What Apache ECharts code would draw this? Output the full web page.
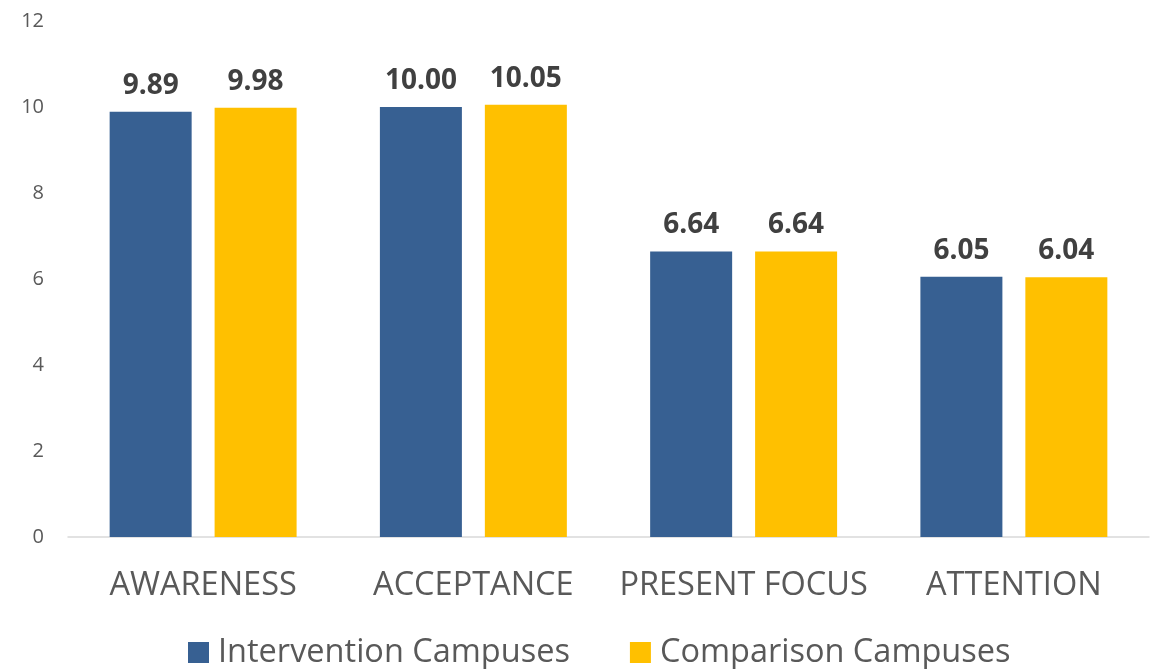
<!DOCTYPE html>
<html>
<head>
<meta charset="utf-8">
<script src="https://cdn.jsdelivr.net/npm/echarts@6/dist/echarts.min.js"></script>
<style>
  html, body { margin: 0; padding: 0; background: #ffffff; }
  #chart { width: 1158px; height: 669px; }
</style>
</head>
<body>
<div id="chart"></div>
<script>
const categories = ['AWARENESS', 'ACCEPTANCE', 'PRESENT FOCUS', 'ATTENTION'];
const interventionValues = [9.89, 10.00, 6.64, 6.05];
const comparisonValues = [9.98, 10.05, 6.64, 6.04];
const seriesNames = ['Intervention Campuses', 'Comparison Campuses'];

const FONT = '"Open Sans", "Noto Sans", sans-serif';

const chart = echarts.init(document.getElementById('chart'));

const valueLabel = {
  show: true,
  position: 'top',
  distance: 12,
  fontFamily: FONT,
  fontWeight: 'bold',
  fontSize: 28,
  color: '#404040',
  formatter: p => p.value.toFixed(2)
};

chart.setOption({
  animation: false,
  backgroundColor: '#ffffff',
  grid: { left: 68, right: 9, top: 21, bottom: 132 },
  legend: {
    top: 636,
    left: 188,
    padding: 0,
    itemWidth: 21,
    itemHeight: 21,
    itemGap: 60,
    icon: 'rect',
    textStyle: { fontFamily: FONT, fontSize: 32.5, color: '#595959', padding: [0, 0, 0, 4] },
    data: seriesNames
  },
  xAxis: {
    type: 'category',
    data: categories,
    axisLine: { lineStyle: { color: '#d9d9d9', width: 1.5 } },
    axisTick: { show: false },
    axisLabel: { interval: 0, fontFamily: FONT, fontSize: 32.5, color: '#595959', margin: 32 }
  },
  yAxis: {
    type: 'value',
    min: 0,
    max: 12,
    interval: 2,
    splitLine: { show: false },
    axisLine: { show: false },
    axisTick: { show: false },
    axisLabel: { fontFamily: FONT, fontSize: 20, color: '#595959', margin: 24, align: 'right' }
  },
  series: [
    {
      name: seriesNames[0],
      type: 'bar',
      data: interventionValues,
      barWidth: 82,
      barGap: '28%',
      itemStyle: { color: '#376092' },
      label: valueLabel
    },
    {
      name: seriesNames[1],
      type: 'bar',
      data: comparisonValues,
      barWidth: 82,
      barGap: '28%',
      itemStyle: { color: '#ffc000' },
      label: valueLabel
    }
  ]
});
</script>
</body>
</html>
